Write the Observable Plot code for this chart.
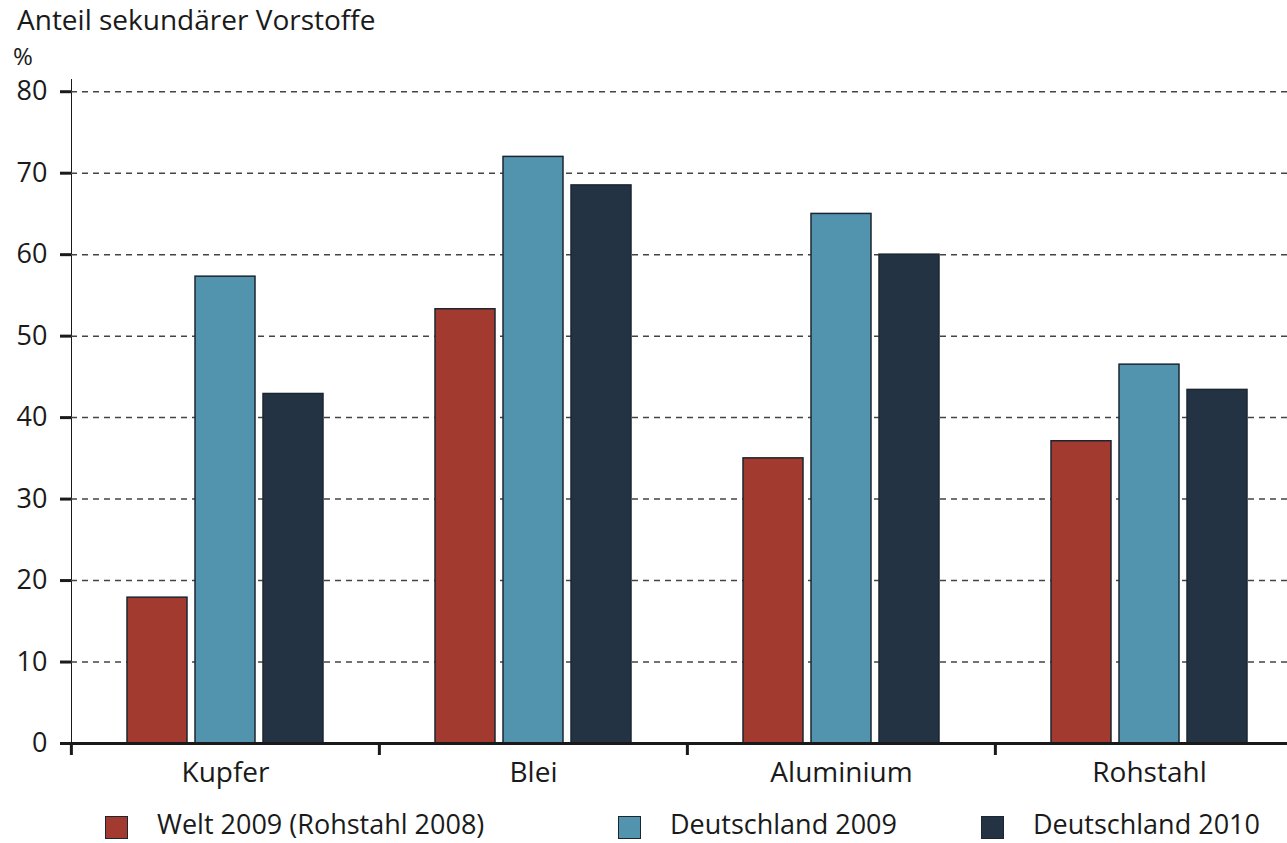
<!DOCTYPE html>
<html>
<head>
<meta charset="utf-8">
<script src="https://cdn.jsdelivr.net/npm/d3@7"></script>
<script src="https://cdn.jsdelivr.net/npm/@observablehq/plot@0.6"></script>
<style>
  html, body { margin: 0; padding: 0; background: #fff; overflow: hidden; }
  body { font-family: "Open Sans", sans-serif; color: #1a1a1a; }
  #wrap { position: relative; width: 1287px; height: 843px; overflow: hidden; }
  #chart { position: absolute; left: 0; top: 0; }
  #chart svg { max-width: none !important; }
  .t { position: absolute; white-space: nowrap; }
  #title { left: 17px; top: 5px; font-size: 28px; line-height: 28px; }
  #unit { left: 13px; top: 44px; font-size: 24px; line-height: 24px; }
  .leg { position: absolute; top: 810px; font-size: 27px; line-height: 27px; white-space: nowrap; }
  .sw { position: absolute; top: 6px; width: 21px; height: 21px; border: 1.5px solid #1b2630; }
  #chart svg g[aria-label^="y-axis"] line, #chart svg g[aria-label^="y-axis"] path { stroke-width: 3px; }
  #chart svg g[aria-label="rule"] line { stroke-width: 3px; stroke: #1a1a1a; }
</style>
</head>
<body>
<div id="wrap">
  <div id="chart"></div>
  <div class="t" id="title">Anteil sekundärer Vorstoffe</div>
  <div class="t" id="unit">%</div>
  <div id="legend"></div>
</div>
<script>
const categories = ["Kupfer", "Blei", "Aluminium", "Rohstahl"];
const seriesNames = ["Welt 2009 (Rohstahl 2008)", "Deutschland 2009", "Deutschland 2010"];
const colors = ["#a33a2f", "#5293ad", "#233343"];
const welt2009 = [17.9, 53.3, 35.0, 37.1];
const deutschland2009 = [57.3, 72.0, 65.0, 46.5];
const deutschland2010 = [42.9, 68.5, 60.0, 43.4];
const yTicks = [0, 10, 20, 30, 40, 50, 60, 70, 80];
const gridTicks = [10, 20, 30, 40, 50, 60, 70, 80];
const legendX = [105, 618, 981];

const seriesValues = [welt2009, deutschland2009, deutschland2010];
const data = [];
categories.forEach((c, i) => seriesNames.forEach((s, j) => data.push({cat: c, series: s, value: seriesValues[j][i]})));

const W = 1303, ML = 70, MR = 0;
const step = (W - ML - MR) / categories.length;

const chart = Plot.plot({
  width: W, height: 790,
  marginLeft: ML, marginRight: MR, marginTop: 79, marginBottom: 47,
  style: {fontFamily: "Open Sans", fontSize: "27px", color: "#1a1a1a", background: "white", overflow: "visible", maxWidth: "none"},
  fx: {domain: categories, paddingInner: 0, paddingOuter: 0, label: null},
  x: {domain: seriesNames, paddingInner: 0.116, paddingOuter: 0.79, axis: null},
  y: {domain: [0, 81.5], ticks: yTicks, tickSize: 11, tickPadding: 13, label: null, line: true},
  color: {domain: seriesNames, range: colors},
  marks: [
    Plot.gridY(gridTicks, {stroke: "#444", strokeOpacity: 1, strokeDasharray: "6,5", strokeWidth: 1.5}),
    Plot.barY(data, {fx: "cat", x: "series", y: "value", fill: "series", stroke: "#1b2630", strokeWidth: 1.5}),
    Plot.ruleY([0], {strokeWidth: 3, stroke: "#1a1a1a"}),
    Plot.axisFx({anchor: "bottom", tickSize: 0, tickPadding: 19, label: null, fontSize: 28}),
    Plot.axisFx({anchor: "bottom", text: null, tickSize: 12, strokeWidth: 3, dx: -step / 2, label: null})
  ]
});
document.getElementById("chart").appendChild(chart);

const leg = document.getElementById("legend");
seriesNames.forEach((s, i) => {
  const d = document.createElement("div");
  d.className = "leg";
  d.style.left = legendX[i] + "px";
  d.innerHTML = `<span class="sw" style="left:0;background:${colors[i]}"></span><span style="margin-left:52px">${s}</span>`;
  leg.appendChild(d);
});
</script>
</body>
</html>
